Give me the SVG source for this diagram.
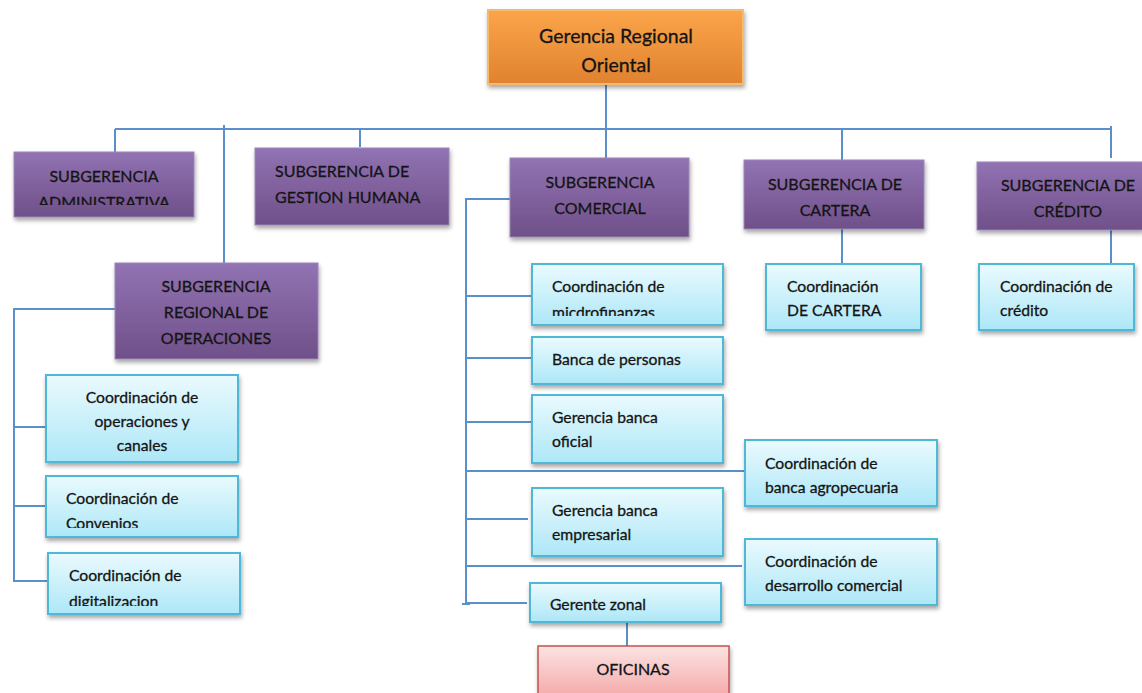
<svg xmlns="http://www.w3.org/2000/svg" width="1142" height="693" viewBox="0 0 1142 693">
<defs>
<linearGradient id="gOr" x1="0" y1="0" x2="0" y2="1"><stop offset="0" stop-color="#fba54a"/><stop offset="1" stop-color="#e0822f"/></linearGradient>
<linearGradient id="gPu" x1="0" y1="0" x2="0" y2="1"><stop offset="0" stop-color="#9273b3"/><stop offset="1" stop-color="#6f5089"/></linearGradient>
<linearGradient id="gBl" x1="0" y1="0" x2="0" y2="1"><stop offset="0" stop-color="#eafafe"/><stop offset="1" stop-color="#ade7f7"/></linearGradient>
<linearGradient id="gRd" x1="0" y1="0" x2="0" y2="1"><stop offset="0" stop-color="#fbe3e3"/><stop offset="1" stop-color="#f4a9a8"/></linearGradient>
<filter id="sh" x="-10%" y="-10%" width="125%" height="135%"><feDropShadow dx="1" dy="3" stdDeviation="2" flood-color="#000" flood-opacity="0.35"/></filter>
<clipPath id="cAdm"><rect x="14" y="150" width="180" height="55"/></clipPath>
<clipPath id="cConv"><rect x="46" y="476" width="192" height="52"/></clipPath>
<clipPath id="cDig"><rect x="48" y="553" width="192" height="53"/></clipPath>
<clipPath id="cMic"><rect x="532" y="264" width="191" height="52"/></clipPath>
</defs>
<style>
.or{fill:url(#gOr);stroke:#f7b870;stroke-width:2;filter:url(#sh)}
.pu{fill:url(#gPu);stroke:#9b85b8;stroke-width:1;filter:url(#sh)}
.bl{fill:url(#gBl);stroke:#4fb8d6;stroke-width:2;filter:url(#sh)}
.rd{fill:url(#gRd);stroke:#c9504f;stroke-width:1.5;filter:url(#sh)}
text{font-family:Lato,"Liberation Sans",sans-serif;font-size:15.7px;fill:#141414;stroke:#141414;stroke-width:0.3}
.t18{font-size:19.5px}
.p{font-size:16px}
.c{text-anchor:middle}
.ln{stroke:#5b8fc9;stroke-width:2;fill:none}
</style>
<g id="connectors" class="ln">
<path d="M606 84V159"/>
<path d="M115 129H1111"/>
<path d="M115 129V152"/>
<path d="M224 125V263"/>
<path d="M360 129V147"/>
<path d="M842 129V160"/>
<path d="M1111 126V158"/>
<path d="M842 229V264"/>
<path d="M1111 222V264"/>
<path d="M510 199H466V604"/>
<path d="M462 604H470"/>
<path d="M466 296H532"/>
<path d="M466 358H532"/>
<path d="M466 422H532"/>
<path d="M466 471H745"/>
<path d="M466 519H528"/>
<path d="M466 566H742"/>
<path d="M466 603H527"/>
<path d="M627 622V646"/>
<path d="M115 309H14V581H48"/>
<path d="M14 427H46"/>
<path d="M14 506H46"/>
</g>
<g id="n-gerencia"><rect class="or" x="488" y="10" width="255" height="74"/><text class="t18 c" x="616" y="43">Gerencia Regional</text><text class="t18 c" x="616" y="72">Oriental</text></g>
<g id="n-adm"><rect class="pu" x="14" y="152" width="180" height="65"/><g clip-path="url(#cAdm)"><text class="p c" x="104" y="182">SUBGERENCIA</text><text class="p c" x="104" y="208">ADMINISTRATIVA</text></g></g>
<g id="n-gh"><rect class="pu" x="255" y="148" width="194" height="77"/><text class="p" x="275" y="177">SUBGERENCIA DE</text><text class="p" x="275" y="203">GESTION HUMANA</text></g>
<g id="n-com"><rect class="pu" x="510" y="158" width="179" height="79"/><text class="p c" x="600" y="188">SUBGERENCIA</text><text class="p c" x="600" y="214">COMERCIAL</text></g>
<g id="n-car"><rect class="pu" x="744" y="160" width="180" height="69"/><text class="p c" x="835" y="190">SUBGERENCIA DE</text><text class="p c" x="835" y="216">CARTERA</text></g>
<g id="n-cre"><rect class="pu" x="977" y="162" width="166" height="68"/><text class="p c" x="1068" y="191">SUBGERENCIA DE</text><text class="p c" x="1068" y="217">CRÉDITO</text></g>
<g id="n-ops"><rect class="pu" x="115" y="263" width="203" height="96"/><text class="p c" x="216" y="292">SUBGERENCIA</text><text class="p c" x="216" y="318">REGIONAL DE</text><text class="p c" x="216" y="344">OPERACIONES</text></g>
<g id="n-opc"><rect class="bl" x="46" y="375" width="192" height="87"/><text class="c" x="142" y="403">Coordinación de</text><text class="c" x="142" y="427">operaciones y</text><text class="c" x="142" y="451">canales</text></g>
<g id="n-conv"><rect class="bl" x="46" y="476" width="192" height="61"/><g clip-path="url(#cConv)"><text x="66" y="504">Coordinación de</text><text x="66" y="529">Convenios</text></g></g>
<g id="n-dig"><rect class="bl" x="48" y="553" width="192" height="61"/><g clip-path="url(#cDig)"><text x="69" y="581">Coordinación de</text><text x="69" y="607">digitalizacion</text></g></g>
<g id="n-mic"><rect class="bl" x="532" y="264" width="191" height="61"/><g clip-path="url(#cMic)"><text x="552" y="292">Coordinación de</text><text x="552" y="318">micdrofinanzas</text></g></g>
<g id="n-bp"><rect class="bl" x="532" y="337" width="191" height="47"/><text x="552" y="365">Banca de personas</text></g>
<g id="n-gbo"><rect class="bl" x="532" y="395" width="191" height="68"/><text x="552" y="423">Gerencia banca</text><text x="552" y="447">oficial</text></g>
<g id="n-agro"><rect class="bl" x="745" y="440" width="192" height="66"/><text x="765" y="469">Coordinación de</text><text x="765" y="493">banca agropecuaria</text></g>
<g id="n-gbe"><rect class="bl" x="532" y="488" width="191" height="68"/><text x="552" y="516">Gerencia banca</text><text x="552" y="540">empresarial</text></g>
<g id="n-dc"><rect class="bl" x="745" y="539" width="192" height="66"/><text x="765" y="567">Coordinación de</text><text x="765" y="591">desarrollo comercial</text></g>
<g id="n-gz"><rect class="bl" x="530" y="583" width="191" height="39"/><text x="550" y="610">Gerente zonal</text></g>
<g id="n-of"><rect class="rd" x="538" y="646" width="191" height="52"/><text class="p c" x="633" y="675">OFICINAS</text></g>
<g id="n-ccar"><rect class="bl" x="766" y="264" width="155" height="66"/><text x="787" y="292">Coordinación</text><text x="787" y="316">DE CARTERA</text></g>
<g id="n-ccre"><rect class="bl" x="979" y="264" width="155" height="66"/><text x="1000" y="292">Coordinación de</text><text x="1000" y="316">crédito</text></g>
</svg>
